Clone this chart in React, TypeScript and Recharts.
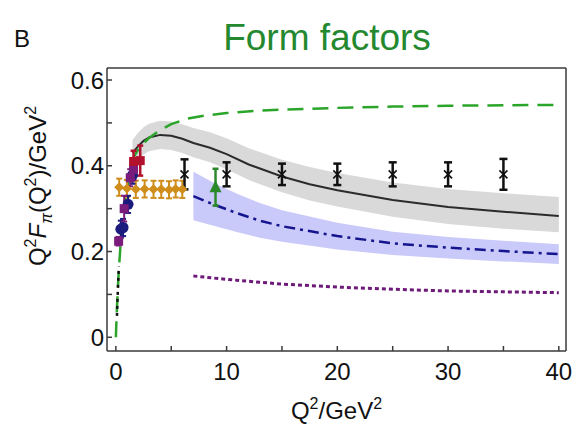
import { ComposedChart, Line, Area, Scatter, XAxis, YAxis, ErrorBar } from 'recharts';

// green dashed curve
const greenQ = [0, 0.1, 0.25, 0.5, 0.8, 1.2, 1.6, 2.2, 3, 4, 5, 6.5, 8, 10, 12.5, 15, 20, 25, 30, 35, 40];
const greenV = [0, 0.07, 0.15, 0.245, 0.315, 0.375, 0.42, 0.445, 0.465, 0.483, 0.497, 0.51, 0.517, 0.523, 0.528, 0.531, 0.535, 0.538, 0.54, 0.541, 0.542];

// short black dotted piece at low Q2
const dotQ = [0.1, 0.18, 0.27];
const dotV = [0.05, 0.11, 0.165];

// grey band + black line
const greyQ = [1.5, 2, 2.5, 3, 4, 5, 6, 7, 8.5, 10, 12, 15, 17.5, 20, 25, 30, 35, 40];
const greyMid = [0.43, 0.445, 0.458, 0.466, 0.472, 0.47, 0.463, 0.453, 0.442, 0.427, 0.403, 0.375, 0.357, 0.343, 0.32, 0.304, 0.293, 0.283];
const greyHi = [0.46, 0.477, 0.49, 0.498, 0.505, 0.503, 0.497, 0.488, 0.478, 0.464, 0.441, 0.414, 0.397, 0.383, 0.361, 0.346, 0.336, 0.327];
const greyLo = [0.4, 0.413, 0.426, 0.434, 0.439, 0.437, 0.43, 0.42, 0.408, 0.392, 0.367, 0.338, 0.319, 0.305, 0.281, 0.264, 0.253, 0.245];

// blue band + dash-dot line
const blueQ = [7, 9, 11, 13, 15, 20, 25, 30, 35, 40];
const blueMid = [0.329, 0.308, 0.289, 0.272, 0.259, 0.236, 0.219, 0.209, 0.201, 0.194];
const blueHi = [0.386, 0.358, 0.334, 0.313, 0.296, 0.267, 0.246, 0.234, 0.225, 0.217];
const blueLo = [0.273, 0.259, 0.245, 0.232, 0.223, 0.205, 0.192, 0.184, 0.177, 0.171];

// purple dotted line
const purpleQ = [7, 10, 15, 20, 25, 30, 35, 40];
const purpleV = [0.143, 0.135, 0.124, 0.117, 0.112, 0.108, 0.106, 0.104];

// data points
const crossPts = [
  { q: 6.2, v: 0.38, e: 0.035 }, { q: 10, v: 0.38, e: 0.028 }, { q: 15, v: 0.38, e: 0.025 },
  { q: 20, v: 0.38, e: 0.025 }, { q: 25, v: 0.38, e: 0.028 }, { q: 30, v: 0.38, e: 0.028 }, { q: 35, v: 0.38, e: 0.036 },
];
const trianglePts = [{ q: 9, v: 0.35, e: 0.043 }];
const goldPts = [
  { q: 0.3, v: 0.35, e: 0.02 }, { q: 1.0, v: 0.347, e: 0.02 }, { q: 1.8, v: 0.345, e: 0.02 },
  { q: 2.6, v: 0.346, e: 0.02 }, { q: 3.4, v: 0.345, e: 0.02 }, { q: 4.1, v: 0.345, e: 0.02 },
  { q: 4.8, v: 0.344, e: 0.02 }, { q: 5.4, v: 0.346, e: 0.02 }, { q: 6.0, v: 0.345, e: 0.02 },
];
const navyPts = [
  { q: 0.45, v: 0.252, e: 0.02 }, { q: 0.65, v: 0.256, e: 0.02 }, { q: 1.1, v: 0.31, e: 0.02 }, { q: 1.5, v: 0.378, e: 0.02 },
];
const purplePts = [
  { q: 0.25, v: 0.224, e: 0.01 }, { q: 0.75, v: 0.3, e: 0.03 }, { q: 1.3, v: 0.372, e: 0.02 }, { q: 1.6, v: 0.392, e: 0.025 },
];
const redPts = [
  { q: 1.6, v: 0.41, e: 0.025 }, { q: 2.2, v: 0.412, e: 0.035 },
];

const xTicks = [0, 5, 10, 15, 20, 25, 30, 35, 40];
const yTicks = [0, 0.1, 0.2, 0.3, 0.4, 0.5, 0.6];

function buildTable() {
  const rows = new Map<number, any>();
  const put = (qs: number[], key: string, val: (i: number) => any) => {
    qs.forEach((q, i) => {
      const r = rows.get(q) ?? { q };
      r[key] = val(i);
      rows.set(q, r);
    });
  };
  put(greenQ, 'green', (i) => greenV[i]);
  put(dotQ, 'dot', (i) => dotV[i]);
  put(greyQ, 'greyMid', (i) => greyMid[i]);
  put(greyQ, 'greyBand', (i) => [greyLo[i], greyHi[i]]);
  put(blueQ, 'blueMid', (i) => blueMid[i]);
  put(blueQ, 'blueBand', (i) => [blueLo[i], blueHi[i]]);
  put(purpleQ, 'purple', (i) => purpleV[i]);
  return [...rows.values()].sort((a, b) => a.q - b.q);
}
const table = buildTable();

const FONT = '"Liberation Sans", Arial, sans-serif';
const AXIS = '#3a3a3a';

const CrossMark = (p: any) => {
  const { cx, cy } = p;
  const s = 4;
  return (
    <g stroke="#111" strokeWidth={1.6}>
      <line x1={cx - s} y1={cy - s} x2={cx + s} y2={cy + s} />
      <line x1={cx - s} y1={cy + s} x2={cx + s} y2={cy - s} />
    </g>
  );
};

const Diamond = (p: any) => {
  const { cx, cy } = p;
  return <polygon points={`${cx},${cy - 5} ${cx + 5},${cy} ${cx},${cy + 5} ${cx - 5},${cy}`} fill="#cf8d1c" />;
};

const Tri = (p: any) => {
  const { cx, cy } = p;
  return <polygon points={`${cx},${cy - 7} ${cx + 6},${cy + 5} ${cx - 6},${cy + 5}`} fill="#2a8a2a" />;
};

const Dot = (p: any) => <circle cx={p.cx} cy={p.cy} r={5.5} fill="#1b1b7e" />;
const Sq = (color: string) => (p: any) => <rect x={p.cx - 4.5} y={p.cy - 4.5} width={9} height={9} fill={color} />;

const XTitle = (props: any) => {
  const vb = props.viewBox;
  const cx = vb.x + vb.width / 2;
  return (
    <text x={cx} y={419} textAnchor="middle" fontSize={24} fontFamily={FONT} fill="#111">
      Q<tspan dy={-10} fontSize={16}>2</tspan>
      <tspan dy={10}>/GeV</tspan>
      <tspan dy={-10} fontSize={16}>2</tspan>
    </text>
  );
};

const YTitle = () => (
  <text x={46} y={186} transform="rotate(-90, 46, 186)" textAnchor="middle" fontSize={24} fontFamily={FONT} fill="#111">
    Q<tspan dy={-10} fontSize={16}>2</tspan>
    <tspan dy={10} fontStyle="italic">F</tspan>
    <tspan dy={6} fontSize={16} fontStyle="italic">π</tspan>
    <tspan dy={-6}>(Q</tspan>
    <tspan dy={-10} fontSize={16}>2</tspan>
    <tspan dy={10}>)/GeV</tspan>
    <tspan dy={-10} fontSize={16}>2</tspan>
  </text>
);

export default function App() {
  const tickStyle = { fontSize: 24, fontFamily: FONT, fill: '#111' };
  return (
    <div style={{ position: 'absolute', left: 0, top: 0, width: 574, height: 427, background: '#fff' }}>
      <svg width={574} height={427} style={{ position: 'absolute', left: 0, top: 0 }}>
        <text x={14} y={47} fontSize={24} fontFamily={FONT} fill="#111">B</text>
        <text x={327} y={50} textAnchor="middle" fontSize={37} fontFamily={FONT} fill="#23882e">Form factors</text>
      </svg>
      <div style={{ position: 'absolute', left: 0, top: 0 }}>
        <ComposedChart width={574} height={427} data={table} margin={{ top: 67, right: 7, bottom: 20, left: 47 }}>
          <XAxis
            dataKey="q"
            type="number"
            domain={[-0.8, 40.65]}
            allowDataOverflow
            ticks={xTicks}
            tickFormatter={(v: number) => (v % 10 === 0 ? String(v) : '')}
            tickSize={-5}
            tickMargin={17}
            height={56}
            stroke={AXIS}
            strokeWidth={1.5}
            tick={tickStyle}
            label={{ content: XTitle }}
          />
          <XAxis
            xAxisId="top"
            orientation="top"
            dataKey="q"
            type="number"
            domain={[-0.8, 40.65]}
            allowDataOverflow
            ticks={xTicks}
            tick={false}
            tickSize={-5}
            height={1}
            stroke={AXIS}
            strokeWidth={1.5}
          />
          <YAxis
            type="number"
            domain={[-0.032, 0.628]}
            allowDataOverflow
            ticks={yTicks}
            tickFormatter={(v: number) => (Math.round(v * 10) % 2 === 0 ? (v === 0 ? '0' : v.toFixed(1)) : '')}
            tickSize={-5}
            tickMargin={8}
            width={60}
            stroke={AXIS}
            strokeWidth={1.5}
            tick={tickStyle}
            label={{ content: YTitle }}
          />
          <YAxis
            yAxisId="right"
            orientation="right"
            type="number"
            domain={[-0.032, 0.628]}
            allowDataOverflow
            ticks={yTicks}
            tick={false}
            tickSize={-5}
            width={1}
            stroke={AXIS}
            strokeWidth={1.5}
          />
          <Area dataKey="greyBand" stroke="none" fill="#d9d9d9" fillOpacity={1} connectNulls isAnimationActive={false} />
          <Area dataKey="blueBand" stroke="none" fill="#c9c9fa" fillOpacity={1} connectNulls isAnimationActive={false} />
          <Line dataKey="greyMid" stroke="#2b2b2b" strokeWidth={2} dot={false} connectNulls isAnimationActive={false} />
          <Line dataKey="blueMid" stroke="#15158f" strokeWidth={2.5} strokeDasharray="11 5 3 5" dot={false} connectNulls isAnimationActive={false} />
          <Line dataKey="purple" stroke="#6e1a78" strokeWidth={3} strokeDasharray="4 3" dot={false} connectNulls isAnimationActive={false} />
          <Line dataKey="green" stroke="#2aa52a" strokeWidth={2.5} strokeDasharray="16 9" dot={false} connectNulls isAnimationActive={false} />
          <Line dataKey="dot" stroke="#111" strokeWidth={2.5} strokeDasharray="3 4" dot={false} connectNulls isAnimationActive={false} />
          <Scatter data={goldPts} dataKey="v" shape={Diamond} isAnimationActive={false}>
            <ErrorBar dataKey="e" direction="y" width={3} stroke="#cf8d1c" strokeWidth={2} />
          </Scatter>
          <Scatter data={navyPts} dataKey="v" shape={Dot} isAnimationActive={false}>
            <ErrorBar dataKey="e" direction="y" width={3} stroke="#1b1b7e" strokeWidth={2} />
          </Scatter>
          <Scatter data={purplePts} dataKey="v" shape={Sq('#7a1c7c')} isAnimationActive={false}>
            <ErrorBar dataKey="e" direction="y" width={3} stroke="#7a1c7c" strokeWidth={2} />
          </Scatter>
          <Scatter data={redPts} dataKey="v" shape={Sq('#b3122e')} isAnimationActive={false}>
            <ErrorBar dataKey="e" direction="y" width={3} stroke="#b3122e" strokeWidth={2.5} />
          </Scatter>
          <Scatter data={trianglePts} dataKey="v" shape={Tri} isAnimationActive={false}>
            <ErrorBar dataKey="e" direction="y" width={3} stroke="#2a8a2a" strokeWidth={2.5} />
          </Scatter>
          <Scatter data={crossPts} dataKey="v" shape={CrossMark} isAnimationActive={false}>
            <ErrorBar dataKey="e" direction="y" width={4} stroke="#111" strokeWidth={2.5} />
          </Scatter>
        </ComposedChart>
      </div>
    </div>
  );
}
